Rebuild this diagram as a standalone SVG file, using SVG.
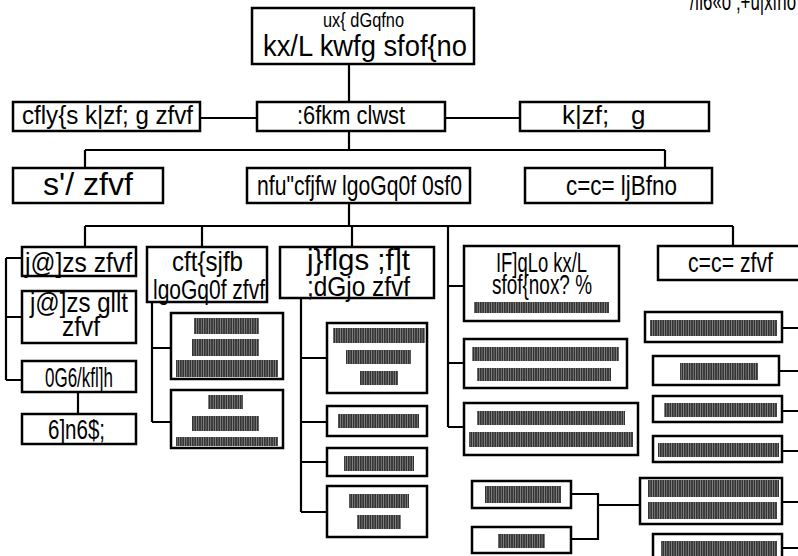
<svg xmlns="http://www.w3.org/2000/svg" width="798" height="556" viewBox="0 0 798 556">
<defs>
<pattern id="stripe" width="2.4" height="10" patternUnits="userSpaceOnUse">
<rect width="2.4" height="10" fill="#333"/>
<rect x="1.6" width="0.8" height="10" fill="#8a8a8a"/>
</pattern>
<style>
.box{fill:#fff;stroke:#000;stroke-width:2.5}
.ln{fill:none;stroke:#000;stroke-width:2.2}
.bar{fill:url(#stripe)}
text{font-family:"Liberation Sans",Arial,sans-serif;fill:#000}
.t{font-size:28px}
.t2{font-size:26px}
.tl{font-size:30px}
.ts{font-size:20px}
</style>
</defs>
<rect width="798" height="556" fill="#fff"/>
<g id="connectors">
<path class="ln" d="M349 64V102M200 118H257M445 118H520M349 131V150M85 150H665M85 150V168M665 150V168M349 203V226M85 226H733M85 226V247M202 226V247M352 226V247M448 226V427M733 226V246"/>
<path class="ln" d="M6 258H22M6 258V380M6 317H22M6 380H22M78 392V414"/>
<path class="ln" d="M152 302V422M152 348H171M152 422H171"/>
<path class="ln" d="M301 298V512M301 358H327M301 422H327M301 462H327M301 512H327"/>
<path class="ln" d="M448 286H464M448 363H464M448 427H464"/>
<path class="ln" d="M571 494H598V539H571M598 505H640"/>
<path class="ln" d="M782 328H798M779 371H798M782 411H798M782 451H798M782 502H798M782 548H798"/>
</g>
<g id="title"><text x="690" y="10" class="t2" textLength="106" lengthAdjust="spacingAndGlyphs">/fi6«o ;+u|xfno</text></g>
<g id="n-top">
<rect class="box" x="252" y="8" width="222" height="56"/>
<text x="323" y="27" class="ts" textLength="81" lengthAdjust="spacingAndGlyphs">ux{ dGqfno</text>
<text x="263" y="56" class="tl" textLength="204" lengthAdjust="spacingAndGlyphs">kx/L kwfg sfof{no</text>
</g>
<g id="n-l2a"><rect class="box" x="13" y="102" width="187" height="29"/>
<text x="22" y="124" class="t2" textLength="171" lengthAdjust="spacingAndGlyphs">cfly{s k|zf; g zfvf</text></g>
<g id="n-l2b"><rect class="box" x="257" y="102" width="188" height="29"/>
<text x="297" y="124" class="t2" textLength="108" lengthAdjust="spacingAndGlyphs">:6fkm clwst</text></g>
<g id="n-l2c"><rect class="box" x="520" y="102" width="189" height="29"/>
<text x="562" y="124" class="t2">k|zf;<tspan x="631">g</tspan></text></g>
<g id="n-l3a"><rect class="box" x="13" y="168" width="150" height="35"/>
<text x="43" y="195" class="t" style="font-size:31px" textLength="90" lengthAdjust="spacingAndGlyphs">s'/ zfvf</text></g>
<g id="n-l3b"><rect class="box" x="247" y="168" width="223" height="35"/>
<text x="257" y="195" class="t" textLength="205" lengthAdjust="spacingAndGlyphs">nfu"cfjfw lgoGq0f 0sf0</text></g>
<g id="n-l3c"><rect class="box" x="525" y="168" width="187" height="35"/>
<text x="566" y="195" class="t" textLength="111" lengthAdjust="spacingAndGlyphs">c=c= ljBfno</text></g>
<g id="n-a1"><rect class="box" x="22" y="247" width="114" height="29"/>
<text x="25" y="272" class="t" textLength="107" lengthAdjust="spacingAndGlyphs">j@]zs zfvf</text></g>
<g id="n-a2"><rect class="box" x="22" y="291" width="114" height="52"/>
<text x="30" y="312" class="t" textLength="98" lengthAdjust="spacingAndGlyphs">j@]zs gllt</text>
<text x="62" y="336" class="t" textLength="38" lengthAdjust="spacingAndGlyphs">zfvf</text></g>
<g id="n-a3"><rect class="box" x="22" y="361" width="114" height="31"/>
<text x="45" y="387" class="t" textLength="68" lengthAdjust="spacingAndGlyphs">0G6/kfl]h</text></g>
<g id="n-a4"><rect class="box" x="22" y="414" width="114" height="30"/>
<text x="48" y="439" class="t" textLength="57" lengthAdjust="spacingAndGlyphs">6]n6$;</text></g>
<g id="n-b"><rect class="box" x="147" y="247" width="120" height="55"/>
<text x="172" y="271" class="t" textLength="71" lengthAdjust="spacingAndGlyphs">cft{sjfb</text>
<text x="153" y="299" class="t" textLength="112" lengthAdjust="spacingAndGlyphs">lgoGq0f zfvf</text></g>
<g id="n-b1"><rect class="box" x="171" y="313" width="112" height="66"/>
<rect class="bar" x="194" y="318" width="65" height="16"/><rect class="bar" x="192" y="339" width="67" height="17"/><rect class="bar" x="176" y="360" width="102" height="17"/></g>
<g id="n-b2"><rect class="box" x="171" y="390" width="112" height="58"/>
<rect class="bar" x="208" y="395" width="35" height="14"/><rect class="bar" x="192" y="416" width="67" height="15"/><rect class="bar" x="176" y="437" width="102" height="9"/></g>
<g id="n-c"><rect class="box" x="280" y="247" width="154" height="51"/>
<text x="307" y="270" class="t" style="font-size:29px" textLength="103" lengthAdjust="spacingAndGlyphs">j}flgs ;f]t</text>
<text x="307" y="296" class="t" textLength="103" lengthAdjust="spacingAndGlyphs">;dGjo zfvf</text></g>
<g id="n-c1"><rect class="box" x="327" y="323" width="100" height="70"/>
<rect class="bar" x="333" y="328" width="92" height="15"/><rect class="bar" x="346" y="350" width="65" height="14"/><rect class="bar" x="360" y="371" width="38" height="14"/></g>
<g id="n-c2"><rect class="box" x="327" y="406" width="100" height="30"/><rect class="bar" x="338" y="414" width="81" height="14"/></g>
<g id="n-c3"><rect class="box" x="327" y="448" width="100" height="28"/><rect class="bar" x="344" y="456" width="70" height="15"/></g>
<g id="n-c4"><rect class="box" x="327" y="486" width="100" height="51"/>
<rect class="bar" x="349" y="494" width="60" height="14"/><rect class="bar" x="357" y="515" width="44" height="14"/></g>
<g id="n-d"><rect class="box" x="464" y="246" width="155" height="75"/>
<text x="496" y="272" class="t" textLength="91" lengthAdjust="spacingAndGlyphs">IF]qLo kx/L</text>
<text x="492" y="294" class="t" textLength="100" lengthAdjust="spacingAndGlyphs">sfof{nox? %</text>
<rect class="bar" x="474" y="302" width="135" height="11"/></g>
<g id="n-d1"><rect class="box" x="464" y="339" width="163" height="49"/>
<rect class="bar" x="472" y="347" width="147" height="14"/><rect class="bar" x="477" y="368" width="134" height="13"/></g>
<g id="n-d2"><rect class="box" x="464" y="403" width="174" height="52"/>
<rect class="bar" x="477" y="411" width="148" height="14"/><rect class="bar" x="469" y="432" width="164" height="15"/></g>
<g id="n-e1"><rect class="box" x="472" y="481" width="99" height="27"/><rect class="bar" x="485" y="486" width="76" height="17"/></g>
<g id="n-e2"><rect class="box" x="472" y="527" width="99" height="26"/><rect class="bar" x="498" y="534" width="47" height="14"/></g>
<g id="n-f"><rect class="box" x="658" y="246" width="142" height="34"/>
<text x="688" y="272" class="t" textLength="85" lengthAdjust="spacingAndGlyphs">c=c= zfvf</text></g>
<g id="n-f1"><rect class="box" x="645" y="312" width="137" height="30"/><rect class="bar" x="650" y="320" width="127" height="16"/></g>
<g id="n-f2"><rect class="box" x="653" y="356" width="126" height="29"/><rect class="bar" x="680" y="363" width="78" height="17"/></g>
<g id="n-f3"><rect class="box" x="653" y="396" width="129" height="26"/><rect class="bar" x="664" y="403" width="113" height="14"/></g>
<g id="n-f4"><rect class="box" x="653" y="436" width="129" height="26"/><rect class="bar" x="658" y="443" width="121" height="14"/></g>
<g id="n-f5"><rect class="box" x="640" y="478" width="142" height="46"/>
<rect class="bar" x="648" y="480" width="131" height="17"/><rect class="bar" x="648" y="502" width="129" height="17"/></g>
<g id="n-f6"><rect class="box" x="653" y="534" width="129" height="30"/><rect class="bar" x="661" y="541" width="116" height="15"/></g>
</svg>
